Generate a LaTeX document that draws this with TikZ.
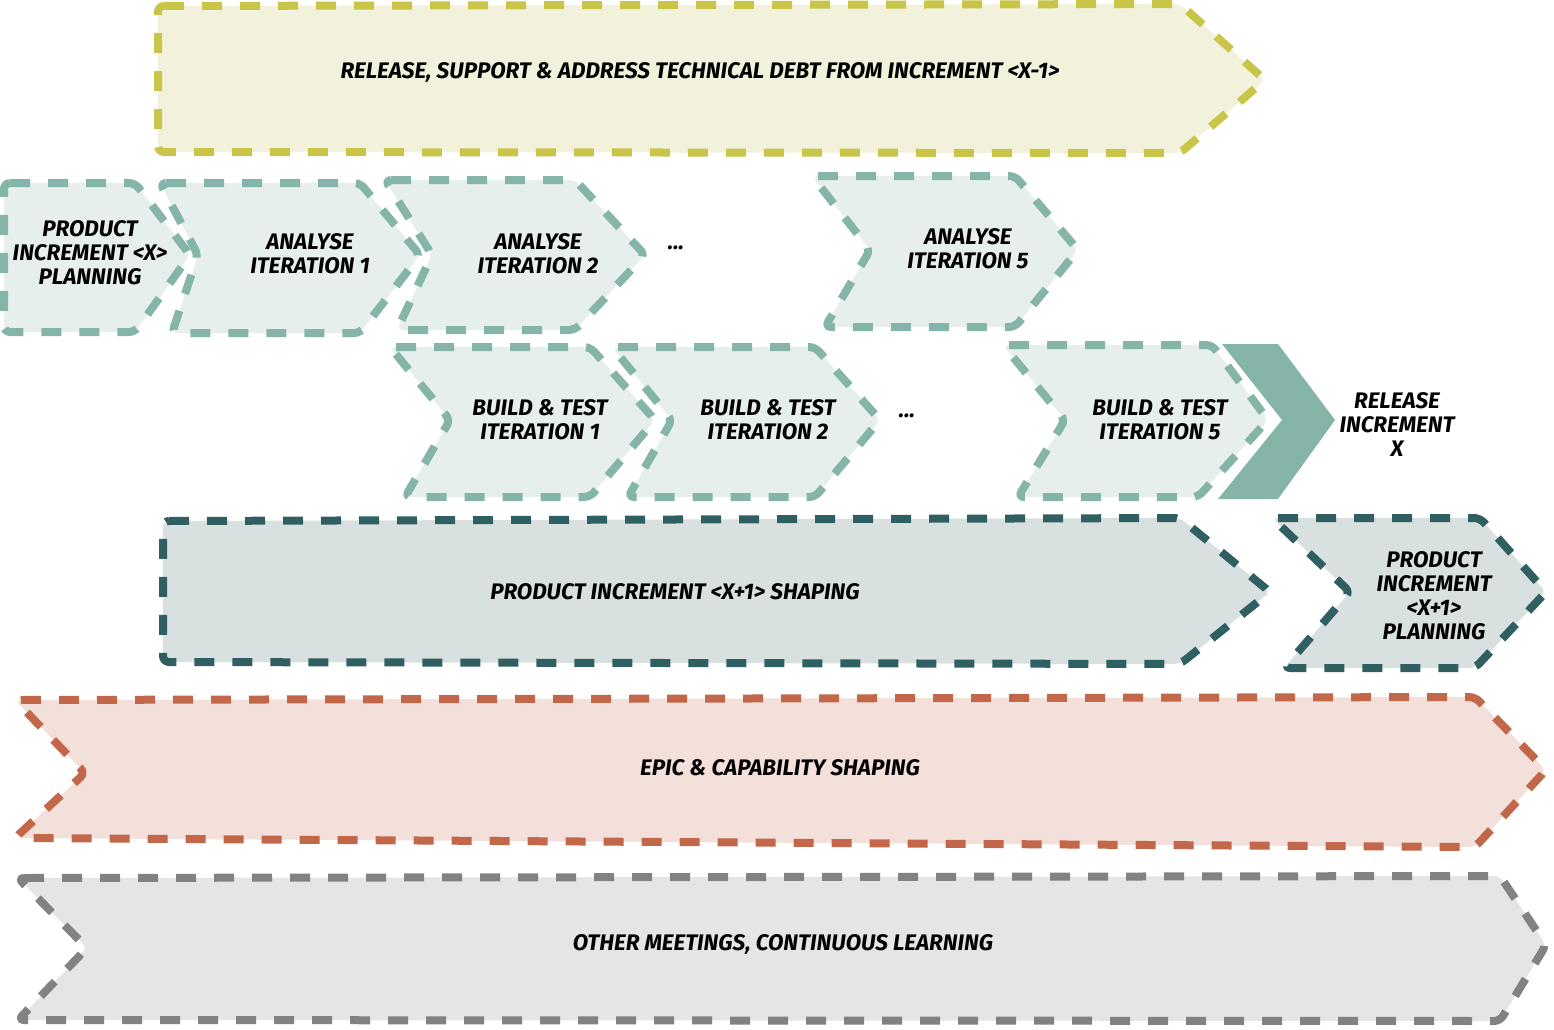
\documentclass[tikz,border=0pt]{standalone}
\usepackage{fontspec}
\setmainfont{Fira Sans}
\begin{document}
\begin{tikzpicture}[x=1pt,y=-1pt,
  lbl/.style={font=\fontsize{22.5}{24}\selectfont\bfseries\itshape, align=center, text=black},
  shp/.style={line width=8pt, dash pattern=on 20pt off 18pt, rounded corners=6pt, line join=round},
  yel/.style={shp, draw=yelS, fill=yelF},
  grn/.style={shp, draw=grnS, fill=grnF},
  teal/.style={shp, draw=tealS, fill=tealF},
  red/.style={shp, draw=redS, fill=redF},
  gry/.style={shp, draw=gryS, fill=gryF}]
\definecolor{yelS}{HTML}{C8C548}
\definecolor{yelF}{HTML}{F2F2DC}
\definecolor{grnS}{HTML}{84B5A8}
\definecolor{grnF}{HTML}{E6EFEC}
\definecolor{tealS}{HTML}{2F5F60}
\definecolor{tealF}{HTML}{D8E0E0}
\definecolor{redS}{HTML}{C3674A}
\definecolor{redF}{HTML}{F3E0DB}
\definecolor{gryS}{HTML}{828282}
\definecolor{gryF}{HTML}{E4E6E5}
\useasboundingbox (0,0) rectangle (1554,1029);

% release & support
\draw[yel] (158,6) -- (1180,4) -- (1265,80) -- (1180,153) -- (158,152) -- cycle;
\node[lbl] (rel) at (700,72) {RELEASE, SUPPORT \& ADDRESS TECHNICAL DEBT FROM INCREMENT <X-1>};

% analyse row
\draw[grn] (4,183) -- (135,183) -- (190,255) -- (135,332) -- (4,332) -- cycle;
\node[lbl] (pix) at (90,253) {PRODUCT\\INCREMENT <X>\\PLANNING};
\draw[grn] (160,183) -- (360,183) -- (420,255) -- (360,333) -- (172,333) -- (198,255) -- cycle;
\node[lbl] (an1) at (310,254) {ANALYSE\\ITERATION 1};
\draw[grn] (385,180) -- (575,180) -- (645,255) -- (575,330) -- (397,330) -- (432,255) -- cycle;
\node[lbl] (an2) at (538,254) {ANALYSE\\ITERATION 2};
\node[lbl] (dots1) at (676,248) {...};
\draw[grn] (812,176) -- (1015,176) -- (1078,250) -- (1015,327) -- (825,327) -- (870,250) -- cycle;
\node[lbl] (an5) at (968,249) {ANALYSE\\ITERATION 5};

% build row
\draw[grn] (390,347) -- (590,347) -- (655,420) -- (590,497) -- (405,497) -- (450,420) -- cycle;
\node[lbl] (bt1) at (540,420) {BUILD \& TEST\\ITERATION 1};
\draw[grn] (612,347) -- (815,347) -- (880,420) -- (815,497) -- (628,497) -- (672,420) -- cycle;
\node[lbl] (bt2) at (768,420) {BUILD \& TEST\\ITERATION 2};
\node[lbl] (dots2) at (907,416) {...};
\draw[grn] (1003,345) -- (1212,345) -- (1268,420) -- (1198,497) -- (1018,497) -- (1065,420) -- cycle;
\node[lbl] (bt5) at (1160,420) {BUILD \& TEST\\ITERATION 5};
\fill[grnS] (1222,344) -- (1278,344) -- (1335,420) -- (1278,499) -- (1218,499) -- (1282,420) -- cycle;
\node[lbl] (rix) at (1397,425) {RELEASE\\INCREMENT\\X};

% shaping
\draw[teal] (163,521) -- (1180,518) -- (1270,592) -- (1180,664) -- (163,662) -- cycle;
\node[lbl] (shp1) at (675,592) {PRODUCT INCREMENT <X+1> SHAPING};
\draw[teal] (1272,518) -- (1480,518) -- (1546,592) -- (1475,668) -- (1284,668) -- (1350,592) -- cycle;
\node[lbl] (pl1) at (1434,596) {PRODUCT\\INCREMENT\\<X+1>\\PLANNING};

% epic
\draw[red] (15,700) -- (1475,697) -- (1546,770) -- (1475,847) -- (15,838) -- (85,773) -- cycle;
\node[lbl] (epic) at (780,768) {EPIC \& CAPABILITY SHAPING};

% other
\draw[gry] (18,878) -- (1500,876) -- (1546,945) -- (1500,1021) -- (18,1020) -- (87,948) -- cycle;
\node[lbl] (oth) at (783,944) {OTHER MEETINGS, CONTINUOUS LEARNING};
\end{tikzpicture}
\end{document}
